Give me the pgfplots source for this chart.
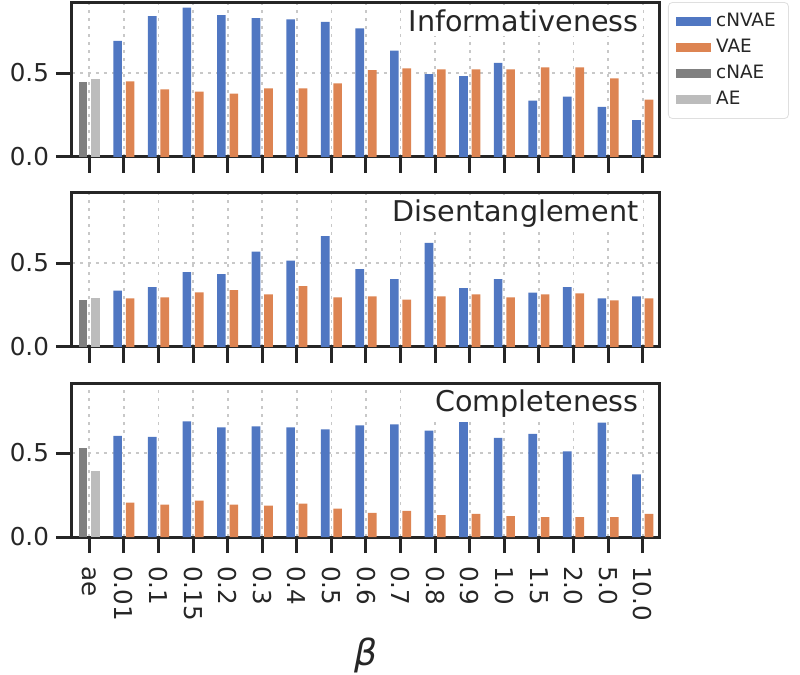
\documentclass[border=0pt]{standalone}
\usepackage{fontspec}
\setmainfont{DejaVu Sans}
\usepackage{pgfplots}
\usepackage{pgfplotstable}
\pgfplotsset{compat=1.18}
\usepgfplotslibrary{groupplots}
\usetikzlibrary{calc}

\definecolor{cnvae}{HTML}{5077C2}
\definecolor{vae}{HTML}{DD8452}
\definecolor{cnae}{HTML}{808080}
\definecolor{aec}{HTML}{BCBCBC}
\definecolor{spine}{HTML}{262626}
\definecolor{gridc}{HTML}{C8C8C8}

% beta index: 1=0.01 ... 16=10.0 ; ae baselines sit at x=0
\pgfplotstableread{
x  cnvae  vae
1  0.692  0.450
2  0.839  0.403
3  0.889  0.389
4  0.845  0.377
5  0.827  0.409
6  0.819  0.409
7  0.804  0.439
8  0.766  0.518
9  0.633  0.528
10 0.494  0.522
11 0.482  0.522
12 0.560  0.522
13 0.335  0.534
14 0.359  0.534
15 0.298  0.468
16 0.220  0.341
}\infotab
\pgfplotstableread{
x  cnvae  vae
1  0.336  0.290
2  0.356  0.296
3  0.446  0.326
4  0.434  0.338
5  0.568  0.314
6  0.514  0.362
7  0.660  0.296
8  0.464  0.302
9  0.404  0.282
10 0.620  0.302
11 0.350  0.314
12 0.404  0.296
13 0.324  0.314
14 0.356  0.320
15 0.290  0.278
16 0.302  0.290
}\distab
\pgfplotstableread{
x  cnvae  vae
1  0.602  0.205
2  0.596  0.193
3  0.689  0.217
4  0.653  0.193
5  0.659  0.187
6  0.653  0.199
7  0.641  0.169
8  0.665  0.143
9  0.671  0.155
10 0.633  0.131
11 0.689  0.137
12 0.590  0.125
13 0.614  0.118
14 0.510  0.118
15 0.681  0.118
16 0.373  0.137
}\comtab
\pgfplotstableread{
x  infcnae infae discnae disae comcnae comae
0  0.445   0.462 0.280   0.290 0.528   0.392
}\aetab

\pgfplotsset{
  bars/.style={ybar, bar width=0.25, draw=none,
    legend image code/.code={\fill[##1, sharp corners] (0pt,-2.3pt) rectangle (17.5pt,2.3pt);}},
}
\tikzset{
  panel/.style={anchor=base east, fill=white, inner sep=2pt,
    font=\fontsize{14.3}{16}\selectfont, text=spine},
}

\begin{document}
\begin{tikzpicture}
\begin{groupplot}[
  group style={group size=1 by 3, vertical sep=18pt, xticklabels at=edge bottom},
  width=294pt, height=77pt, scale only axis,
  xmin=-0.5, xmax=16.5, ymin=0, ymax=0.917,
  xtick={0,...,16},
  xticklabels={ae,0.01,0.1,0.15,0.2,0.3,0.4,0.5,0.6,0.7,0.8,0.9,1.0,1.5,2.0,5.0,10.0},
  ytick={0,0.5},
  yticklabel style={/pgf/number format/.cd, fixed, fixed zerofill, precision=1},
  /pgf/number format/assume math mode=true,
  tick label style={font=\fontsize{12.3}{14}\selectfont, text=spine},
  xticklabel style={rotate=-90, anchor=west},
  xticklabel shift=3pt,
  xtick pos=left, ytick pos=left,
  tick align=outside,
  major tick length=8pt,
  major tick style={line width=1.5pt, spine},
  axis line style={line width=1.5pt, spine},
  grid=major,
  major grid style={gridc, line width=0.9pt, dash pattern=on 1.5pt off 2.5pt},
]
\nextgroupplot[
  legend style={at={(1.0136,1.006)}, anchor=north west, draw=gray!25,
    rounded corners=2pt, font=\fontsize{9.2}{10}\selectfont, text=spine,
    cells={anchor=west}, row sep=0pt, inner xsep=4pt, inner ysep=3pt,
    nodes={inner sep=2.4pt}},
]
\coordinate (TL) at (rel axis cs:0,1);
\addplot[bars, fill=cnvae, bar shift=-0.18] table[x=x, y=cnvae] {\infotab};
\addlegendentry{cNVAE}
\addplot[bars, fill=vae, bar shift=0.18] table[x=x, y=vae] {\infotab};
\addlegendentry{VAE}
\addplot[bars, fill=cnae, bar shift=-0.18] table[x=x, y=infcnae] {\aetab};
\addlegendentry{cNAE}
\addplot[bars, fill=aec, bar shift=0.18] table[x=x, y=infae] {\aetab};
\addlegendentry{AE}
\node[panel] at (rel axis cs:0.971,0.812) {Informativeness};

\nextgroupplot
\addplot[bars, fill=cnvae, bar shift=-0.18] table[x=x, y=cnvae] {\distab};
\addplot[bars, fill=vae, bar shift=0.18] table[x=x, y=vae] {\distab};
\addplot[bars, fill=cnae, bar shift=-0.18] table[x=x, y=discnae] {\aetab};
\addplot[bars, fill=aec, bar shift=0.18] table[x=x, y=disae] {\aetab};
\node[panel] at (rel axis cs:0.971,0.812) {Disentanglement};

\nextgroupplot[
  xlabel={\fontsize{18}{20}\selectfont\itshape β},
  xlabel style={at={(axis description cs:0.5,0)}, anchor=center, yshift=-59pt, text=spine},
]
\addplot[bars, fill=cnvae, bar shift=-0.18] table[x=x, y=cnvae] {\comtab};
\addplot[bars, fill=vae, bar shift=0.18] table[x=x, y=vae] {\comtab};
\addplot[bars, fill=cnae, bar shift=-0.18] table[x=x, y=comcnae] {\aetab};
\addplot[bars, fill=aec, bar shift=0.18] table[x=x, y=comae] {\aetab};
\node[panel] at (rel axis cs:0.971,0.812) {Completeness};
\end{groupplot}
\pgfresetboundingbox
\path[use as bounding box] ($(TL)+(-36pt,1.5pt)$) rectangle ($(TL)+(364pt,-336pt)$);
\end{tikzpicture}
\end{document}
